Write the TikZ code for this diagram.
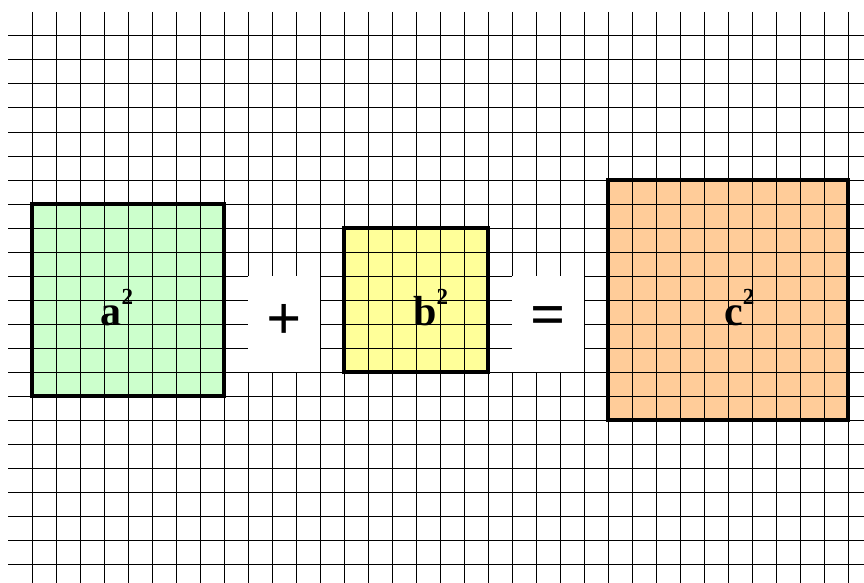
\documentclass[tikz,border=0pt]{standalone}
\usepackage{fontspec}
\setmainfont{Liberation Serif}
\usepackage{tikz}
\usetikzlibrary{positioning}
\definecolor{sqgreen}{HTML}{CCFFCC}
\definecolor{sqyellow}{HTML}{FFFF99}
\definecolor{sqorange}{HTML}{FFCC99}
\newcommand{\sqlabel}[1]{\textbf{#1}{\fontsize{23}{23}\selectfont\raisebox{20.5pt}{\textbf{2}}}}

\begin{document}
\begin{tikzpicture}[
  x=1pt, y=-1pt,
  gridline/.style={black, line width=1pt},
  sqborder/.style={draw=black, line width=3.5pt},
  opbox/.style={fill=white, draw=none},
  sqtext/.style={anchor=base west, inner sep=0pt, font=\fontsize{42}{42}\selectfont},
  optext/.style={inner sep=0pt, font=\fontsize{62}{62}\selectfont\bfseries},
]
  \useasboundingbox (0,0) rectangle (864,583);

  % square fills
  \fill[sqgreen] (32,204) rectangle (224,396);
  \fill[sqyellow] (344,228) rectangle (488,372);
  \fill[sqorange] (608,180) rectangle (848,420);

  % grid paper
  \foreach \x in {32,56,...,848}
    \draw[gridline] (\x,12) -- (\x,583);
  \foreach \y in {36,60,...,564}
    \draw[gridline] (8,\y) -- (864,\y);

  % blank boxes for the operators
  \fill[opbox] (248,276) rectangle (320,372);
  \fill[opbox] (512,276) rectangle (584,372);

  % square borders
  \draw[sqborder] (32,204) rectangle (224,396);
  \draw[sqborder] (344,228) rectangle (488,372);
  \draw[sqborder] (608,180) rectangle (848,420);

  % labels
  \node[sqtext] (la) at (100.5,325) {\sqlabel{a}};
  \node[sqtext] (lb) at (413,325) {\sqlabel{b}};
  \node[sqtext] (lc) at (724,325) {\sqlabel{c}};
  \node[optext] (plus) at (284,321.5) {+};
  \node[optext] (eq) at (548.3,321) {=};
\end{tikzpicture}
\end{document}
